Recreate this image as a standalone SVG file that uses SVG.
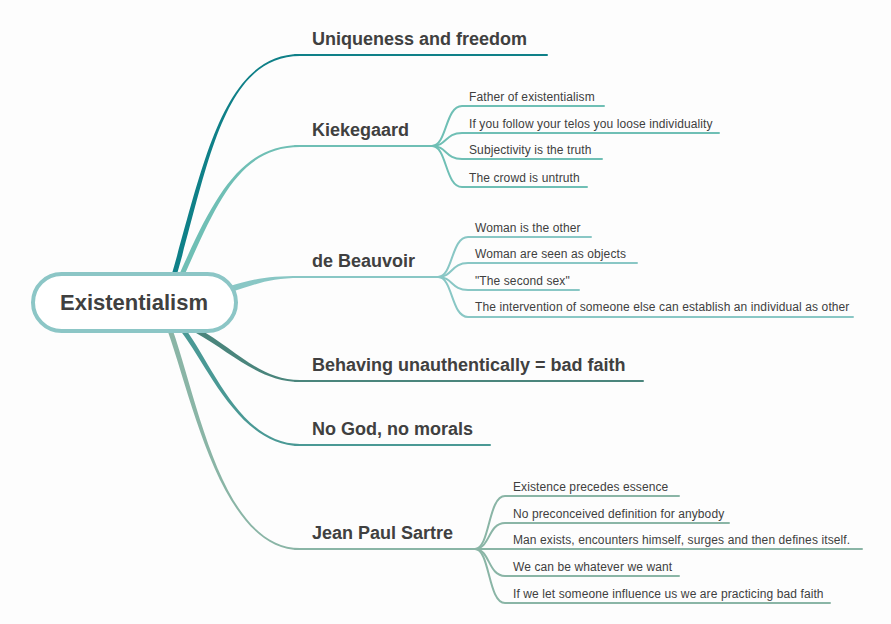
<svg xmlns="http://www.w3.org/2000/svg" width="891" height="624" viewBox="0 0 891 624">
<style>
.main{font-family:"Liberation Sans",Arial,sans-serif;font-weight:bold;font-size:18px;fill:#404040}
.sub{font-family:"Liberation Sans",Arial,sans-serif;font-size:12px;letter-spacing:0.1px;fill:#404040}
.root{font-family:"Liberation Sans",Arial,sans-serif;font-weight:bold;font-size:22px;fill:#404040}
.ul{fill:none;stroke-width:2;stroke-linecap:round}
.c1{stroke:#0f8088}.f1{fill:#0f8088}
.c2{stroke:#6fbfb5}.f2{fill:#6fbfb5}
.c3{stroke:#89c7c5}.f3{fill:#89c7c5}
.c4{stroke:#4a857c}.f4{fill:#4a857c}
.c5{stroke:#4a9995}.f5{fill:#4a9995}
.c6{stroke:#8ab5a6}.f6{fill:#8ab5a6}
</style>
<rect width="891" height="624" fill="#fdfdfd"/>
<g id="connectors">
  <path class="f1" d="M175.4,279.7 C207.4,170.7 222,56 300,56 L300,54 C222,54 202.6,169.3 170.6,278.3 Z"/>
  <path class="f2" d="M182.3,280 C217.3,201 240,147 300,147 L300,145 C240,145 212.7,199 177.7,278 Z"/>
  <path class="f3" d="M229,292.9 C256,283.9 270,278 300,278 L300,276 C270,276 254,278.2 227,287.2 Z"/>
  <path class="f4" d="M194.8,332.2 C233.8,354.2 260,382 300,382 L300,380 C260,380 236.2,349.8 197.2,327.8 Z"/>
  <path class="f5" d="M181,331.5 C208,366.5 240,446 300,446 L300,444 C240,444 212,363.5 185,328.5 Z"/>
  <path class="f6" d="M167.6,330.8 C192.6,400.8 222,550 300,550 L300,548 C222,548 197.4,399.2 172.4,329.2 Z"/>
  <path class="ul c1" d="M295,55 H547"/>
  <path class="ul c2" d="M295,146 H432"/>
  <path class="ul c3" d="M295,277 H438"/>
  <path class="ul c4" d="M295,381 H643"/>
  <path class="ul c5" d="M295,445 H490"/>
  <path class="ul c6" d="M295,549 H475"/>
  <g class="ul c2">
    <path d="M432,146 C447,146 445,106 462,106 H604"/>
    <path d="M432,146 C447,146 445,133 462,133 H719"/>
    <path d="M432,146 C447,146 445,159 462,159 H602"/>
    <path d="M432,146 C447,146 445,187 462,187 H587"/>
  </g>
  <g class="ul c3">
    <path d="M438,277 C453,277 451,237 468,237 H591"/>
    <path d="M438,277 C453,277 451,263 468,263 H637"/>
    <path d="M438,277 C453,277 451,290 468,290 H579"/>
    <path d="M438,277 C453,277 451,317 468,317 H853"/>
  </g>
  <g class="ul c6">
    <path d="M475,549 C490,549 488,496 505,496 H679"/>
    <path d="M475,549 C490,549 488,523 505,523 H729"/>
    <path d="M475,549 H862"/>
    <path d="M475,549 C490,549 488,576 505,576 H679"/>
    <path d="M475,549 C490,549 488,603 505,603 H830"/>
  </g>
</g>
<g id="root">
  <rect x="33" y="274" width="203" height="57" rx="28.5" fill="#ffffff" stroke="#8cc6c6" stroke-width="4"/>
  <text class="root" x="134" y="310" text-anchor="middle">Existentialism</text>
</g>
<g id="uniqueness"><text class="main" x="312" y="45">Uniqueness and freedom</text></g>
<g id="kiekegaard"><text class="main" x="312" y="136">Kiekegaard</text></g>
<g id="kiekegaard-1"><text class="sub" x="469" y="101">Father of existentialism</text></g>
<g id="kiekegaard-2"><text class="sub" x="469" y="128">If you follow your telos you loose individuality</text></g>
<g id="kiekegaard-3"><text class="sub" x="469" y="154">Subjectivity is the truth</text></g>
<g id="kiekegaard-4"><text class="sub" x="469" y="182">The crowd is untruth</text></g>
<g id="beauvoir"><text class="main" x="312" y="267">de Beauvoir</text></g>
<g id="beauvoir-1"><text class="sub" x="475" y="232">Woman is the other</text></g>
<g id="beauvoir-2"><text class="sub" x="475" y="258">Woman are seen as objects</text></g>
<g id="beauvoir-3"><text class="sub" x="475" y="285">"The second sex"</text></g>
<g id="beauvoir-4"><text class="sub" x="475" y="311">The intervention of someone else can establish an individual as other</text></g>
<g id="behaving"><text class="main" x="312" y="371">Behaving unauthentically = bad faith</text></g>
<g id="nogod"><text class="main" x="312" y="435">No God, no morals</text></g>
<g id="sartre"><text class="main" x="312" y="539">Jean Paul Sartre</text></g>
<g id="sartre-1"><text class="sub" x="513" y="491">Existence precedes essence</text></g>
<g id="sartre-2"><text class="sub" x="513" y="518">No preconceived definition for anybody</text></g>
<g id="sartre-3"><text class="sub" x="513" y="544">Man exists, encounters himself, surges and then defines itself.</text></g>
<g id="sartre-4"><text class="sub" x="513" y="571">We can be whatever we want</text></g>
<g id="sartre-5"><text class="sub" x="513" y="598">If we let someone influence us we are practicing bad faith</text></g>
</svg>
